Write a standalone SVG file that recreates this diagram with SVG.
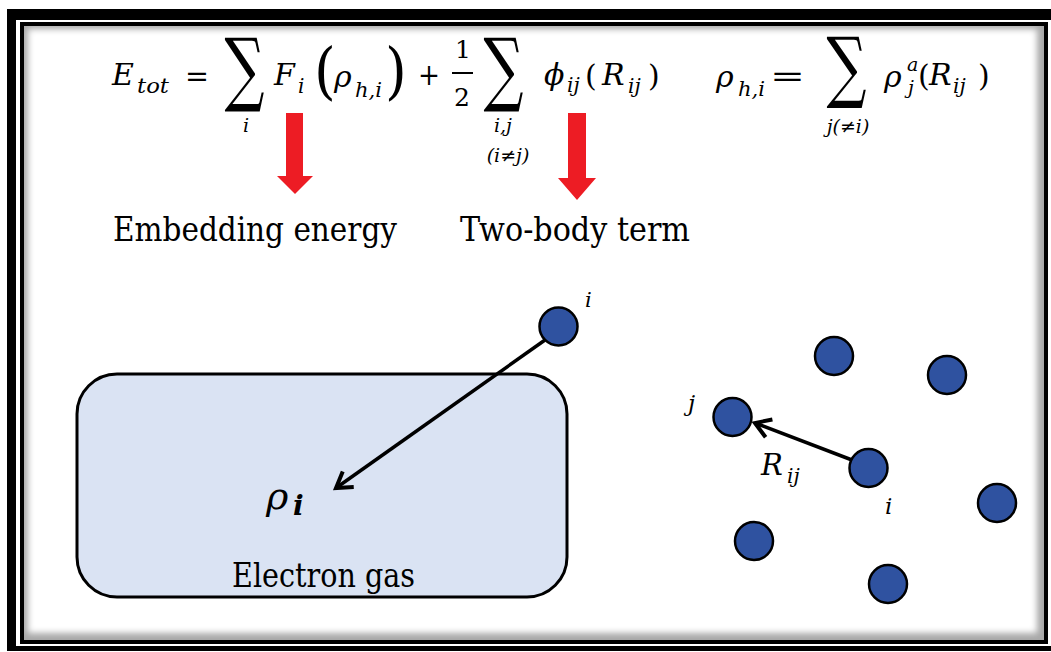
<svg xmlns="http://www.w3.org/2000/svg" width="1051" height="652" viewBox="0 0 1051 652">
<style>
.m{font-style:italic;fill:#000}
.r{fill:#000}
.big{font-size:30px}
.sub{font-size:20px}
.lim{font-size:19px}
.lbl{font-size:33px;fill:#000}
.atom{fill:#2F52A0;stroke:#000;stroke-width:2.5}
.conn{stroke:#000;stroke-width:3.5;fill:none}
.redarrow{fill:#ED1C24}
</style>
<defs>
<marker id="openArrow" markerUnits="userSpaceOnUse" markerWidth="30" markerHeight="30" viewBox="-20 -15 30 30" refX="0" refY="0" orient="auto">
<path d="M -15 -9.5 L 0 0 L -15 9.5" fill="none" stroke="#000" stroke-width="4" stroke-linejoin="miter"/>
</marker>
<clipPath id="innerClip"><rect x="24" y="26" width="1020" height="614"/></clipPath>
<filter id="soft" x="-5%" y="-5%" width="110%" height="110%"><feGaussianBlur stdDeviation="3"/></filter>
</defs>

<g id="frame">
<rect x="7" y="9" width="1060" height="642" fill="#000"/>
<rect x="16" y="20" width="1040" height="626" fill="#fff"/>
<rect x="20" y="22" width="1028" height="622" fill="#000"/>
<g clip-path="url(#innerClip)">
<rect x="24" y="26" width="1020" height="614" fill="#a8a8a8"/>
<rect x="28" y="29" width="1009" height="604" fill="#fff" filter="url(#soft)"/>
</g>
</g>

<g id="equation" font-family="DejaVu Serif, serif">
<text class="m big" x="112" y="85">E</text>
<text class="m sub" x="137" y="93" textLength="32" lengthAdjust="spacingAndGlyphs">tot</text>
<text class="r big" x="185" y="86" textLength="24" lengthAdjust="spacingAndGlyphs">=</text>
<text class="r" x="244.5" y="0" font-size="56" text-anchor="middle" transform="translate(0,96) scale(1,1.45)">∑</text>
<text class="m lim" x="246" y="132" text-anchor="middle">i</text>
<text class="m big" x="274" y="85">F</text>
<text class="m sub" x="298" y="93">i</text>
<text class="r" x="314" y="93" font-size="56" transform="translate(0,-10) scale(1,1.1)">(</text>
<text class="m big" x="334" y="87">ρ</text>
<text class="m sub" x="355" y="97" textLength="27" lengthAdjust="spacingAndGlyphs">h,i</text>
<text class="r" x="385" y="93" font-size="56" transform="translate(0,-10) scale(1,1.1)">)</text>
<text class="r big" x="418" y="85" textLength="22" lengthAdjust="spacingAndGlyphs">+</text>
<text class="r" x="463" y="58" font-size="25" text-anchor="middle">1</text>
<line x1="452" y1="73" x2="473" y2="73" stroke="#000" stroke-width="2"/>
<text class="r" x="462" y="106" font-size="25" text-anchor="middle">2</text>
<text class="r" x="503.5" y="0" font-size="56" text-anchor="middle" transform="translate(0,96) scale(1,1.45)">∑</text>
<text class="m lim" x="503" y="132" text-anchor="middle">i,j</text>
<text class="m" x="508" y="162" font-size="19" text-anchor="middle">(i≠j)</text>
<text class="m big" x="544" y="85">ϕ</text>
<text class="m sub" x="567" y="92">ij</text>
<text class="r big" x="585" y="86">(</text>
<text class="m big" x="602" y="85">R</text>
<text class="m sub" x="628" y="93">ij</text>
<text class="r big" x="648" y="86">)</text>
<text class="m big" x="716" y="87">ρ</text>
<text class="m sub" x="738" y="96" textLength="27" lengthAdjust="spacingAndGlyphs">h,i</text>
<text class="r big" x="770" y="86" textLength="35" lengthAdjust="spacingAndGlyphs">=</text>
<text class="r" x="846.5" y="0" font-size="56" text-anchor="middle" transform="translate(0,93) scale(1,1.4)">∑</text>
<text class="m" x="848" y="133" font-size="19" text-anchor="middle">j(≠i)</text>
<text class="m big" x="884" y="87">ρ</text>
<text class="m" x="907" y="71" font-size="19">a</text>
<text class="m" x="908" y="94" font-size="19">j</text>
<text class="r big" x="918" y="86">(</text>
<text class="m big" x="929" y="85">R</text>
<text class="m sub" x="953" y="93">ij</text>
<text class="r big" x="978" y="86">)</text>
</g>

<g id="red-arrows">
<polygon class="redarrow" points="286,113 303,113 303,176 313,176 295,194 277,176 286,176"/>
<polygon class="redarrow" points="568,113 586,113 586,178 596,178 577,200 558,178 568,178"/>
</g>

<g id="labels" font-family="DejaVu Serif, serif">
<text class="lbl" x="113" y="241" textLength="284" lengthAdjust="spacingAndGlyphs">Embedding energy</text>
<text class="lbl" x="460" y="241" textLength="230" lengthAdjust="spacingAndGlyphs">Two-body term</text>
</g>

<g id="electron-gas" font-family="DejaVu Serif, serif">
<rect x="77" y="374" width="490" height="223" rx="40" ry="40" fill="#DAE3F3" stroke="#000" stroke-width="3"/>
<text class="m" x="266" y="509" font-size="38">ρ</text>
<text class="m" x="293" y="515" font-size="28" font-weight="bold">i</text>
<text class="lbl" x="232" y="587" textLength="183" lengthAdjust="spacingAndGlyphs">Electron gas</text>
</g>

<g id="connectors">
<line class="conn" x1="545" y1="340" x2="336" y2="488" marker-end="url(#openArrow)"/>
<line class="conn" x1="852" y1="460" x2="755" y2="423" marker-end="url(#openArrow)"/>
</g>

<g id="atoms" font-family="DejaVu Serif, serif">
<g id="atom-i-top">
<circle class="atom" cx="558.5" cy="326.5" r="19"/>
<text class="m" x="585" y="307" font-size="21">i</text>
</g>
<g id="atom-1"><circle class="atom" cx="834" cy="356" r="19"/></g>
<g id="atom-2"><circle class="atom" cx="947" cy="375" r="19"/></g>
<g id="atom-j">
<circle class="atom" cx="732.5" cy="417" r="19"/>
<text class="m" x="688" y="411" font-size="23">j</text>
</g>
<g id="atom-i">
<circle class="atom" cx="868.5" cy="468" r="19"/>
<text class="m" x="885" y="514" font-size="23">i</text>
</g>
<g id="atom-3"><circle class="atom" cx="997" cy="503" r="19"/></g>
<g id="atom-4"><circle class="atom" cx="754" cy="541" r="19"/></g>
<g id="atom-5"><circle class="atom" cx="888" cy="584" r="19"/></g>
<g id="rij-label">
<text class="m" x="761" y="475" font-size="29">R</text>
<text class="m" x="787" y="483" font-size="20">ij</text>
</g>
</g>
</svg>
